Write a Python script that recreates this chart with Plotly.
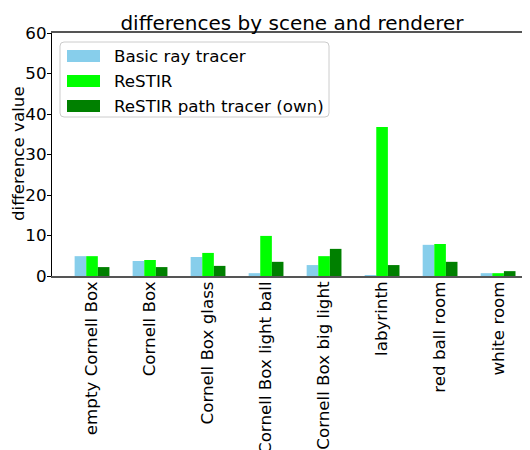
import plotly.graph_objects as go

scenes = ["empty Cornell Box", "Cornell Box", "Cornell Box glass", "Cornell Box light ball",
          "Cornell Box big light", "labyrinth", "red ball room", "white room"]
basic_ray_tracer = [4.9, 3.7, 4.7, 0.7, 2.7, 0.2, 7.7, 0.7]
restir = [4.9, 3.95, 5.7, 9.9, 4.9, 36.8, 7.9, 0.7]
restir_path_tracer = [2.2, 2.2, 2.5, 3.5, 6.7, 2.7, 3.5, 1.2]
series_names = ["Basic ray tracer", "ReSTIR", "ReSTIR path tracer (own)"]
series_colors = ["#87CEEB", "#00FF00", "#008000"]
y_ticks = [0, 10, 20, 30, 40, 50, 60]

O = 8  # page body margin offset
W, H = 530 - O, 450 - O
L, T = 52 - O, 33 - O
PB = 276 - O  # plot bottom in figure px
B = H - PB
R = 0
pw, ph = W - L - R, H - T - B

def px(x):
    return (x - O - L) / pw

def py(y):
    return (T + ph - (y - O)) / ph

FONT = "DejaVu Sans"
FS = 16.7
fig = go.Figure()
for name, vals, col in zip(series_names, [basic_ray_tracer, restir, restir_path_tracer], series_colors):
    fig.add_trace(go.Bar(x=scenes, y=vals, name=name, marker=dict(color=col, line=dict(width=0)),
                         showlegend=False))

# custom legend
shapes = []
annotations = []
x0, x1, y0, y1, r = 60, 329, 42, 117, 4
path = (f"M {px(x0+r)},{py(y0)} L {px(x1-r)},{py(y0)} Q {px(x1)},{py(y0)} {px(x1)},{py(y0+r)} "
        f"L {px(x1)},{py(y1-r)} Q {px(x1)},{py(y1)} {px(x1-r)},{py(y1)} "
        f"L {px(x0+r)},{py(y1)} Q {px(x0)},{py(y1)} {px(x0)},{py(y1-r)} "
        f"L {px(x0)},{py(y0+r)} Q {px(x0)},{py(y0)} {px(x0+r)},{py(y0)} Z")
shapes.append(dict(type="path", xref="paper", yref="paper", path=path,
                   fillcolor="rgba(255,255,255,0.8)", line=dict(color="#cccccc", width=1)))
for i, (name, col) in enumerate(zip(series_names, series_colors)):
    top = 50 + 25 * i
    shapes.append(dict(type="rect", xref="paper", yref="paper",
                       x0=px(67), x1=px(100), y0=py(top), y1=py(top + 12),
                       fillcolor=col, line=dict(width=0)))
    annotations.append(dict(xref="paper", yref="paper", x=px(112), y=py(top + 6),
                            text=name, showarrow=False, xanchor="left", yanchor="middle",
                            font=dict(family=FONT, size=FS, color="black")))

annotations.append(dict(xref="paper", yref="paper", x=px(18), y=py(154), text="difference value",
                        textangle=-90, showarrow=False, xanchor="center", yanchor="middle",
                        font=dict(family=FONT, size=FS, color="black")))

fig.update_layout(
    width=W, height=H,
    margin=dict(l=L, r=R, t=T, b=B, autoexpand=False),
    paper_bgcolor="white", plot_bgcolor="white",
    barmode="group", bargap=0.4, bargroupgap=0,
    title=dict(text="differences by scene and renderer", x=px(292), xref="paper", xanchor="center",
               y=1 - (23 - O) / H, yref="container", yanchor="middle",
               font=dict(family=FONT, size=20, color="black")),
    font=dict(family=FONT, size=FS, color="black"),
    shapes=shapes, annotations=annotations,
    xaxis=dict(range=[-0.69, 7.55], showgrid=False, showline=True, linecolor="#555555",
               linewidth=1.5, mirror=True, ticks="", tickangle=-90, automargin=False,
               ticklabelstandoff=-3,
               tickfont=dict(family=FONT, size=FS, color="black")),
    yaxis=dict(range=[0, 60], tickvals=y_ticks, showgrid=False, zeroline=False,
               showline=True, linecolor="black", linewidth=1.2, ticks="outside", ticklen=4,
               tickcolor="black", automargin=False, ticklabelstandoff=-3,
               tickfont=dict(family=FONT, size=FS, color="black")),
)

fig.write_html("out.html")
